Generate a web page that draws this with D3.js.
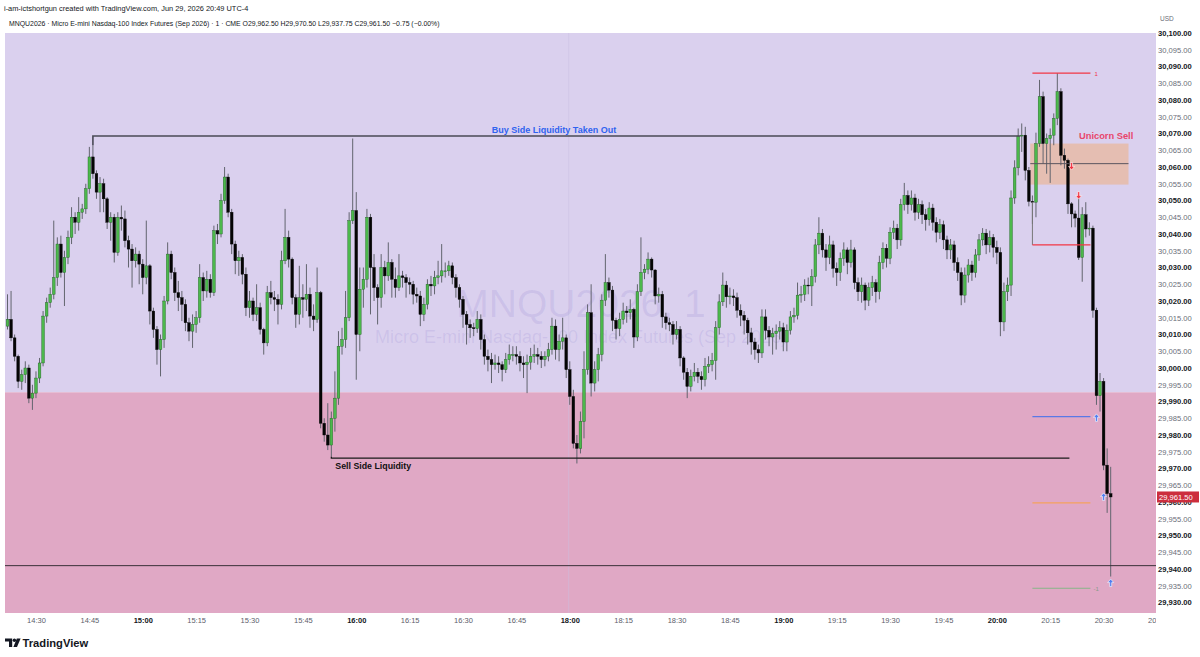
<!DOCTYPE html>
<html>
<head>
<meta charset="utf-8">
<script src="https://cdn.jsdelivr.net/npm/d3@7"></script>
<style>
body { margin: 0; background: #fff; }
svg { display: block; font-family: "Liberation Sans", Arial, sans-serif; }
</style>
</head>
<body>
<script>
// MNQU2026 1-minute candles, 14:22 -> 16:59 and 18:00 -> 20:32 (open = previous close)
var firstOpen = 30012.5;
var closes = [
30014.5,30009,30003.5,29996,29998,30000,29991,29992.5,29997,30001.5,
30015.5,30019.5,30022,30027,30037,30028.5,30033,30039,30045,30043.5,
30046.5,30047.5,30053.5,30063,30058,30052.5,30055,30050.5,30043.5,30045,
30034.5,30045,30044.5,30038,30035.5,30032,30034,30031,30027,30030.5,
30017,30011.5,30005.5,30008.5,30020,30034,30028.5,30022.5,30021,30019,
30013.5,30011,30013,30015,30027,30023,30026.5,30022.5,30041,30040,
30050,30057,30046.5,30037,30032,30033,30028,30018,30020,30016,
30018,30011.5,30007.5,30022.5,30021,30020.5,30019,30032,30039,30032.5,
30021,30016,30021,30020.5,30022,30015.5,30014.5,30022.5,29983.5,29980,
29977,29985,29991,30006.5,30008.5,30015,30044,30047,30010,30023.5,
30026.5,30045,30030,30024,30021,30030,30027.5,30031.5,30026.5,30024,
30027.5,30027,30025.5,30025,30022,30021.5,30016,30019,30025,30024.5,
30027,30027.5,30029,30029,30030.5,30027,30024,30020.5,30016,30013,
30012,30011.75,30014.5,30008.5,30003.5,30002.5,30001,30001.5,30001,29999.5,
30002.5,30004,30004,30003.5,30001.5,30001,30001.75,30003.5,30004,30003.5,
30002.5,30003.5,30005.5,30012.5,30005.5,30008,30009,29999.5,29991.5,29977.5,
29976,29984,29999.5,30016.5,29995.5,29999.5,30004,30020.25,30025.5,30023.25,
30014.25,30011.75,30014.5,30017,30016.5,30017.5,30009.25,30022.75,30028.5,30029.5,
30032.5,30029.25,30021.5,30022,30015.25,30013.5,30013,30010,30011.5,30003,
29998.75,29994.5,29997.5,29998.75,29997.5,29996.5,30000.5,30001,30002.25,30012,
30019.75,30024.75,30021.25,30021.5,30021,30017.25,30015.75,30014.25,30010.5,30007.75,
30005.5,30004.5,30015.25,30011.25,30009.25,30010.25,30011,30012,30007.75,30011.25,
30015.25,30015.75,30021.75,30022,30024.75,30024.5,30027.25,30036.75,30040.25,30035.25,
30033,30036.75,30029.75,30028.5,30032.75,30035.25,30031.5,30035.25,30025.5,30022.75,
30024.75,30020.25,30024,30025.5,30022.75,30031.5,30035.75,30032.75,30040.5,30041.75,
30038.25,30048.75,30051.5,30048.75,30050.75,30046.5,30048.75,30045.75,30044.25,30047.75,
30043.5,30040.5,30042.75,30038.25,30035.25,30036.75,30031.5,30028.5,30021.75,30027.75,
30030.75,30028.5,30033.75,30038.25,30040.25,30036.75,30039,30036,30034.5,30013.75,
30022.75,30024.75,30050.75,30059.75,30069.25,30069.5,30059,30049.75,30049.5,30067,
30081,30067,30068.5,30069.5,30074.5,30082.5,30063.5,30062,30049,30046,
30044.75,30033,30045.75,30041.5,30041.75,30017.25,29991.75,29996,29971,29962.5,29961.5
];
var highs = [
30022,30023,30010,30004,29999.5,30002,30001,29995,29999,30003,
30017,30021,30024,30044,30039,30039.5,30035,30041,30048,30046.5,
30051,30049,30055,30066,30066.5,30059,30057,30056.5,30051,30046.5,
30046,30046.5,30048.5,30047,30039.5,30037,30036,30035,30032.5,30044,
30031,30018,30012.5,30010,30021.5,30037.5,30035,30030,30026,30023,
30020.5,30015,30016,30017,30031,30028.5,30029,30028,30042.5,30043,
30052,30060,30058,30047.5,30038,30035,30034,30030,30023,30021,
30025,30019.5,30012,30024.5,30026,30023,30022,30035,30047.5,30041,
30033,30022,30030.5,30025,30031,30024,30019,30030,30023,29985,
29989.5,29987,29999,30011,30012,30023,30046.5,30068.5,30052.5,30030,
30030,30047.5,30046,30034,30025,30034,30032,30037.5,30032.5,30030,
30034,30029,30028,30027,30026,30024,30023,30021,30026.5,30027.5,
30029,30032,30037,30031.5,30032,30031.5,30028,30025,30021.5,30017,
30014.5,30013.5,30017,30016,30010,30005.5,30004.5,30004,30003.5,30002,
30004.5,30007,30006.5,30006.5,30005,30003.5,30004,30006,30007,30006,
30005,30005,30007.5,30015,30014.5,30010,30015,30010,30002,29993.5,
29980,29987,30005,30019,30025,30002,30006,30022,30034,30027,
30024.5,30015,30016.5,30019.5,30018.5,30020.5,30018,30025,30039,30031,
30034.5,30033,30029.5,30024,30023,30016.5,30015,30014,30014,30012.5,
30003.5,30000,29999.5,30001.5,30000,29999,30003,30003.5,30004.5,30014,
30022,30028.5,30026,30024,30023.5,30022.5,30019,30017,30015,30012,
30009,30007,30017.5,30017.5,30012.5,30012,30013,30014,30013.5,30013,
30017,30018,30025.5,30024.5,30026.5,30027,30029.5,30038.5,30045,30041.5,
30037,30039.5,30038,30031.5,30034.5,30037.5,30036,30038.25,30036,30027,
30027,30025.5,30025.5,30027.5,30026.5,30033.5,30037.5,30037,30042,30044,
30043,30050.5,30055.25,30053,30053,30052,30050.5,30050,30047.5,30049.5,
30049,30045,30044.5,30044,30039.5,30038.5,30038,30033,30030,30030,
30032.5,30032,30035.5,30040,30041.75,30041.5,30041,30040,30038,30036,
30025.5,30027,30053,30062,30071.5,30073,30072,30060,30051.5,30070.25,
30086,30082.5,30070,30071.5,30076,30088,30083.5,30065.5,30062.5,30049.5,
30047,30050.75,30048,30049.5,30043.5,30042.5,30018,29998.5,29997,29976,29970.5
];
var lows = [
30011.5,30008,30002,29994,29993.5,29995.5,29989.5,29987.5,29991,29995.5,
30000.5,30013.5,30018,30020.5,30024.5,30027,30018.5,30031,30037,30040,
30041,30044.5,30046,30052,30056.5,30050.5,30046.5,30046.5,30041.5,30038,
30031.5,30033.5,30041,30036,30030,30024,30030,30025,30022,30025,
30013,30009,30001,29997.5,30006,30019,30026.5,30020,30017,30014,
30011,30008,30006,30010.5,30013.5,30020,30021,30021,30021.5,30037,
30039,30049,30045,30034,30028,30027.5,30025,30015.5,30015,30014,
30014,30010,30004,30006.5,30019,30017,30013,30017.5,30031,30030,
30019,30012,30013,30015,30017,30012,30011,30013.5,29982,29978,
29975.5,29973.5,29981,29989,30004,30006,30014,30043,29996.5,30005,
30018,30024,30016,30020,30013,30018,30022,30026,30021,30021,
30023,30024,30021,30022,30019,30019.5,30012.5,30014,30017.5,30021.5,
30022,30025,30025.5,30027,30027.5,30025,30021,30018,30012,30007,
30009,30009.5,30010.5,30005.5,30001,29999,29995.5,29999.5,29998.5,29996,
29998.5,30001,30002,30001,29999,29997,29992.5,29999.5,30001.5,30001,
30000,30000.5,30002,30004,30002.5,30002,30005.5,29997,29989,29976,
29971.5,29974.5,29979,29998,29991.5,29993,29996,30002,30018.5,30021,
30011,30008.5,30009.5,30013,30013.5,30014.5,30006,30008,30021.5,30026.5,
30028,30027,30019,30019.5,30012,30011.5,30011,30007,30008.5,30000.5,
29996.5,29991,29993,29996,29995.5,29993.5,29994.5,29998.5,29999,29996.5,
30010,30018.5,30018,30019,30018.5,30015,30012.5,30010,30007,30004,
30002.5,30001.5,30003,30008.5,30006.5,30004,30005.5,30008.5,30005,30005,
30010,30013.5,30014.5,30019.5,30020,30022,30018.5,30025.5,30034,30033,
30029,30031,30027,30024.5,30026,30030.5,30028,30030,30023.5,30020,
30019.5,30017.25,30018.5,30021.5,30019.5,30020.5,30029.5,30030,30031,30038.5,
30035.5,30036.5,30047,30046,30047,30044,30044.5,30043,30041,30042.5,
30041,30037.5,30038.5,30035.5,30032.5,30032.5,30029,30026,30018.75,30019.5,
30025.5,30026,30027,30032,30036.5,30034,30034.5,30033,30031,30009.5,
30011,30020,30021.5,30049,30057.5,30064.5,30056,30048.25,30043,30045,
30066,30061,30058,30055.25,30066.5,30072.5,30060.5,30059.5,30046,30042,
30042,30032.25,30025.75,30039,30039.5,30015,29989,29987,29969.5,29956.75,29937.75
];

// x axis: bar index of each label
var tickIdx = [8,23,38,53,68,83,98,113,128,143,158,173,188,203,218,233,248,263,278,293,308,323];
var tickText = ["14:30","14:45","15:00","15:15","15:30","15:45","16:00","16:15","16:30","16:45",
  "18:00","18:15","18:30","18:45","19:00","19:15","19:30","19:45","20:00","20:15","20:30","20:45"];
var priceTicks = d3.range(29930, 30100.1, 5);

// drawings
var zoneSplit = 29992.75;          // premium (top) / discount (bottom)
var bslPrice = 30069.25, bslFrom = 24, bslTo = 284.6;
var sslPrice = 29973.1, sslFrom = 91, sslTo = 298.4;
var eqLine = 29941;
var unicornTop = 30067, unicornBottom = 30054.75, unicornMid = 30061, unicornFrom = 287.4, unicornTo = 315;
var levelPrices = [30088, 30036.75, 29985.5, 29959.75, 29934.25];
var levelColors = ["#f23645", "#f23645", "#5a78e6", "#f5a25d", "#87b487"];
var levelFrom = 288, levelTo = 304.3;
var upArrowIdx = [306, 308, 310], upArrowPrice = [29985.1, 29961.5, 29935.8];
var downArrowIdx = [299, 301], downArrowPrice = [30060.3, 30051.6];
var lastPrice = 29961.5;

var W = 1200, H = 657;
var plot = {l: 5, r: 1156, t: 33, b: 613};

var x = d3.scaleLinear().domain([0, 310]).range([7.5, 1110.7]);
var y = d3.scaleLinear().domain([29930, 30100]).range([602.5, 33]);

var candles = closes.map(function(c, i) {
  return {i: i, o: i ? closes[i - 1] : firstOpen, h: highs[i], l: lows[i], c: c};
});

var svg = d3.select("body").append("svg")
  .attr("width", W).attr("height", H);

svg.append("rect").attr("width", W).attr("height", H).attr("fill", "#fff");

var defs = svg.append("defs");
defs.append("clipPath").attr("id", "plotclip")
  .append("rect").attr("x", plot.l).attr("y", plot.t)
  .attr("width", plot.r - plot.l).attr("height", plot.b - plot.t);
defs.append("clipPath").attr("id", "xclip")
  .append("rect").attr("x", 0).attr("y", plot.b).attr("width", plot.r).attr("height", 20);

var g = svg.append("g").attr("clip-path", "url(#plotclip)");

// zones
g.append("rect").attr("x", plot.l).attr("y", plot.t)
  .attr("width", plot.r - plot.l).attr("height", y(zoneSplit) - plot.t)
  .attr("fill", "#dad0ee");
g.append("rect").attr("x", plot.l).attr("y", y(zoneSplit))
  .attr("width", plot.r - plot.l).attr("height", plot.b - y(zoneSplit))
  .attr("fill", "#e0a8c5");

// session break
g.append("line").attr("x1", x(157.7)).attr("x2", x(157.7))
  .attr("y1", plot.t).attr("y2", plot.b)
  .attr("stroke", "#c9bfe2").attr("stroke-width", 0.7).attr("stroke-opacity", 0.7);

// watermark
g.append("text").attr("x", 581).attr("y", 317).attr("text-anchor", "middle")
  .style("font-size", "39px").attr("fill", "#6a5cc4").attr("fill-opacity", 0.13)
  .text("MNQU2026, 1");
g.append("text").attr("x", 581).attr("y", 343).attr("text-anchor", "middle")
  .style("font-size", "18px").attr("fill", "#6a5cc4").attr("fill-opacity", 0.13)
  .text("Micro E-mini Nasdaq-100 Index Futures (Sep 2026)");

// unicorn box
g.append("rect").attr("x", x(unicornFrom)).attr("y", y(unicornTop))
  .attr("width", x(unicornTo) - x(unicornFrom)).attr("height", y(unicornBottom) - y(unicornTop))
  .attr("fill", "rgb(255,150,40)").attr("fill-opacity", 0.3);

// candles
g.selectAll(".wick").data(candles).enter().append("line")
  .attr("x1", function(d) { return x(d.i); })
  .attr("x2", function(d) { return x(d.i); })
  .attr("y1", function(d) { return y(d.h); })
  .attr("y2", function(d) { return y(d.l); })
  .attr("stroke", "#62646e").attr("stroke-width", 1);

g.selectAll(".body").data(candles).enter().append("rect")
  .attr("x", function(d) { return x(d.i) - 1.35; })
  .attr("width", 2.7)
  .attr("y", function(d) { return y(Math.max(d.o, d.c)); })
  .attr("height", function(d) { return Math.max(0.9, Math.abs(y(d.o) - y(d.c))); })
  .attr("fill", function(d) { return d.c >= d.o ? "#4cb84c" : "#050505"; })
  .attr("stroke", function(d) { return d.c >= d.o ? "#1f5f22" : "#050505"; })
  .attr("stroke-width", 0.4);

// box mid line
g.append("line").attr("x1", x(unicornFrom)).attr("x2", x(unicornTo))
  .attr("y1", y(unicornMid)).attr("y2", y(unicornMid))
  .attr("stroke", "#5a5560").attr("stroke-width", 1);

// liquidity lines
g.append("path")
  .attr("d", "M" + x(bslFrom) + "," + y(highs[bslFrom]) + "V" + y(bslPrice) + "H" + x(bslTo))
  .attr("fill", "none").attr("stroke", "#4a4a55").attr("stroke-width", 1.6);
g.append("path")
  .attr("d", "M" + x(sslFrom) + "," + y(lows[sslFrom]) + "V" + y(sslPrice) + "H" + x(sslTo))
  .attr("fill", "none").attr("stroke", "#1a1a1a").attr("stroke-width", 1.3);
g.append("line").attr("x1", plot.l).attr("x2", plot.r)
  .attr("y1", y(eqLine)).attr("y2", y(eqLine))
  .attr("stroke", "#3a3038").attr("stroke-width", 1);

// level tool
g.append("line").attr("x1", x(levelFrom)).attr("x2", x(levelFrom))
  .attr("y1", y(30049.5)).attr("y2", y(levelPrices[1]))
  .attr("stroke", "#777").attr("stroke-width", 1);
g.selectAll(".lvl").data(levelPrices).enter().append("line")
  .attr("x1", x(levelFrom)).attr("x2", x(levelTo))
  .attr("y1", function(d) { return y(d); })
  .attr("y2", function(d) { return y(d); })
  .attr("stroke", function(d, i) { return levelColors[i]; })
  .attr("stroke-width", 1.2);
g.append("text").attr("x", x(levelTo) + 4).attr("y", y(levelPrices[0]) + 2.5)
  .style("font-size", "6px").attr("fill", "#f23645").text("1");
g.append("text").attr("x", x(levelTo) + 3).attr("y", y(levelPrices[4]) + 2.5)
  .style("font-size", "6px").attr("fill", "#8a9a8a").text("-1");

// arrows
function arrow(px, py, up, color) {
  var s = up ? 1 : -1;
  var d = "M" + px + "," + (py - 4 * s) +
    "L" + (px + 3) + "," + (py - 0.5 * s) + "L" + (px + 1) + "," + (py - 0.5 * s) +
    "L" + (px + 1) + "," + (py + 3.5 * s) + "L" + (px - 1) + "," + (py + 3.5 * s) +
    "L" + (px - 1) + "," + (py - 0.5 * s) + "L" + (px - 3) + "," + (py - 0.5 * s) + "Z";
  g.append("path").attr("d", d).attr("fill", color)
    .attr("stroke", "#fff").attr("stroke-width", 0.6);
}
upArrowIdx.forEach(function(idx, k) { arrow(x(idx), y(upArrowPrice[k]), true, "#4f7df0"); });
downArrowIdx.forEach(function(idx, k) { arrow(x(idx), y(downArrowPrice[k]), false, "#f23645"); });

// labels
g.append("text").attr("x", 554).attr("y", y(bslPrice) - 3).attr("text-anchor", "middle")
  .style("font-size", "9px").style("font-weight", "bold").attr("fill", "#2f63f0")
  .text("Buy Side Liquidity Taken Out");
g.append("text").attr("x", x(sslFrom) + 4).attr("y", y(sslPrice) + 10.5)
  .style("font-size", "8.8px").style("font-weight", "bold").attr("fill", "#111")
  .text("Sell Side Liquidity");
g.append("text").attr("x", 1079).attr("y", 139)
  .style("font-size", "9.3px").style("font-weight", "bold").attr("fill", "#e8456a")
  .text("Unicorn Sell");

// x axis (clipped at the price scale, so 20:45 shows only "20")
var xAxis = svg.append("g").attr("clip-path", "url(#xclip)")
  .append("g")
  .attr("transform", "translate(0," + (plot.b + 2) + ")")
  .call(d3.axisBottom(x).tickValues(tickIdx).tickSize(0).tickPadding(3)
    .tickFormat(function(d, i) { return tickText[i]; }));
xAxis.select(".domain").remove();
xAxis.selectAll("text")
  .style("font-family", "'Liberation Sans', Arial, sans-serif")
  .style("font-size", "7.5px")
  .style("font-weight", function(d, i) { return /:00$/.test(tickText[i]) ? "bold" : "normal"; })
  .attr("fill", function(d, i) { return /:00$/.test(tickText[i]) ? "#131722" : "#5d606b"; });

// y axis
var yAxis = svg.append("g").attr("transform", "translate(" + (plot.r + 1) + ",0)")
  .call(d3.axisRight(y).tickValues(priceTicks).tickSize(0).tickPadding(1)
    .tickFormat(d3.format(",.2f")));
yAxis.select(".domain").remove();
yAxis.selectAll("text")
  .style("font-family", "'Liberation Sans', Arial, sans-serif")
  .style("font-size", "7.6px")
  .style("font-weight", function(d) { return d % 10 === 0 ? "bold" : "normal"; })
  .attr("fill", function(d) { return d % 10 === 0 ? "#131722" : "#6a6d78"; });

svg.append("text").attr("x", 1160).attr("y", 21)
  .style("font-size", "6.5px").attr("fill", "#6a6d78").text("USD");

// last price label (covers the 29,960.00 tick like the platform does)
svg.append("rect").attr("x", plot.r + 1).attr("y", y(lastPrice) - 5.5)
  .attr("width", 42).attr("height", 11).attr("fill", "#cc2e3d");
svg.append("text").attr("x", plot.r + 3).attr("y", y(lastPrice) + 2.7)
  .style("font-size", "7.6px").attr("fill", "#fff").text(d3.format(",.2f")(lastPrice));

// header
svg.append("text").attr("x", 4).attr("y", 11)
  .style("font-size", "7.4px").attr("fill", "#131722")
  .text("i-am-ictshortgun created with TradingView.com, Jun 29, 2026 20:49 UTC-4");
svg.append("text").attr("x", 9).attr("y", 25.5)
  .style("font-size", "6.9px").attr("fill", "#131722")
  .text("MNQU2026 \u00b7 Micro E-mini Nasdaq-100 Index Futures (Sep 2026) \u00b7 1 \u00b7 CME  O29,962.50  H29,970.50  L29,937.75  C29,961.50  \u22120.75 (\u22120.00%)");

// TradingView logo
var logo = svg.append("g").attr("fill", "#131722");
logo.append("path").attr("d", "M5,638.5h7.2v8.5h-3.2v-5.4h-4z");
logo.append("circle").attr("cx", 14.4).attr("cy", 640.2).attr("r", 1.7);
logo.append("path").attr("d", "M16.8,638.5h3.8l-3.6,8.5h-3.6z");
svg.append("text").attr("x", 22.5).attr("y", 647)
  .style("font-size", "11.2px").style("font-weight", "bold").attr("fill", "#131722")
  .text("TradingView");
</script>
</body>
</html>
